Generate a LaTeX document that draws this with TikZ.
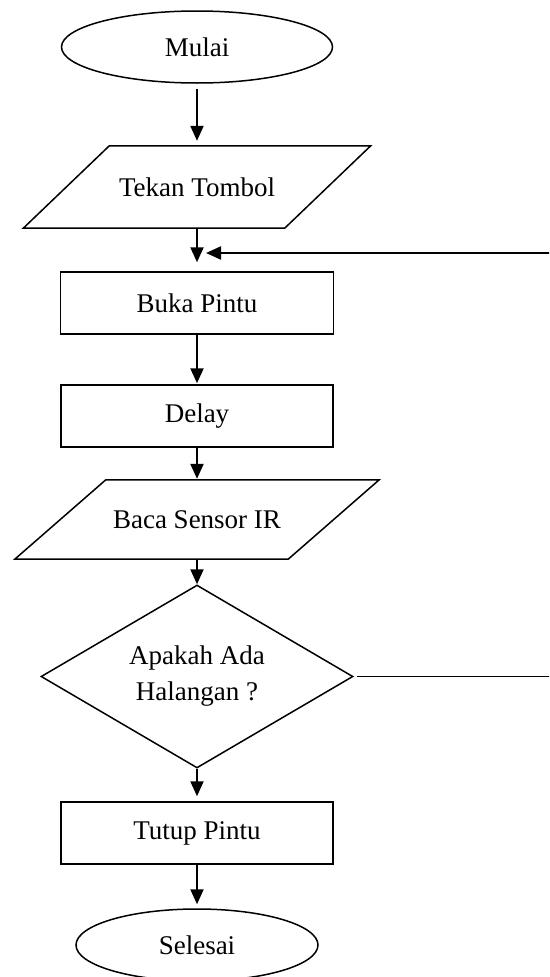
\documentclass[tikz,border=0pt]{standalone}
\usepackage{fontspec}
\setmainfont{Liberation Serif}
\usetikzlibrary{shapes.geometric,arrows.meta}
\begin{document}
\begin{tikzpicture}[x=1pt,y=-1pt,
  shapebox/.style={draw,line width=1.5pt,inner sep=0pt,font=\fontsize{27}{36}\selectfont},
  ovalbox/.style={shapebox,ellipse},
  rectbox/.style={shapebox,rectangle},
  iobox/.style={rectangle,inner sep=0pt,font=\fontsize{27}{36}\selectfont},
  decbox/.style={shapebox,diamond,aspect=1.7,align=center},
  conn/.style={line width=2.2pt,-{Triangle[width=13pt,length=15pt]}},
  plainconn/.style={line width=1.5pt},
  loopconn/.style={line width=2.2pt}
]
\useasboundingbox (0,0) rectangle (549,977);
\clip (0,0) rectangle (549,977);

\node[ovalbox,minimum width=271pt,minimum height=72pt] (mulai) at (197,47) {Mulai};
\node[iobox,minimum width=261pt,minimum height=82pt] (tekan) at (197,187) {Tekan Tombol};
\draw[line width=1.5pt] ([xshift=43pt]tekan.north west) -- ([xshift=43pt]tekan.north east)
  -- ([xshift=-43pt]tekan.south east) -- ([xshift=-43pt]tekan.south west) -- cycle;
\node[rectbox,minimum width=273pt,minimum height=62pt] (buka) at (197,303) {Buka Pintu};
\node[rectbox,minimum width=272pt,minimum height=62pt] (delay) at (197,416) {Delay};
\node[iobox,minimum width=273pt,minimum height=79pt] (baca) at (197,519.5) {Baca Sensor IR};
\draw[line width=1.5pt] ([xshift=45.5pt]baca.north west) -- ([xshift=45.5pt]baca.north east)
  -- ([xshift=-45.5pt]baca.south east) -- ([xshift=-45.5pt]baca.south west) -- cycle;
\node[decbox,minimum width=312pt,minimum height=183pt] (dia) at (197,676.5) {Apakah Ada\\Halangan ?};
\node[rectbox,minimum width=272pt,minimum height=62pt] (tutup) at (197,833) {Tutup Pintu};
\node[ovalbox,minimum width=242pt,minimum height=72pt] (selesai) at (197,945) {Selesai};

\draw[conn,shorten <=5pt,shorten >=5pt] (mulai.south) -- (tekan.north);
\draw[conn,shorten >=9pt] (tekan.south) -- (buka.north);
\draw[conn,shorten >=1pt] (buka.south) -- (delay.north);
\draw[conn,shorten >=1pt] (delay.south) -- (baca.north);
\draw[conn] (baca.south) -- (dia.north);
\draw[conn,shorten >=5pt] (dia.south) -- (tutup.north);
\draw[conn,shorten <=-1pt,shorten >=4pt] (tutup.south) -- (selesai.north);

\coordinate (c1) at (565,676.5);
\coordinate (c2) at (565,253);
\coordinate (loopin) at (206,253);
\draw[plainconn,shorten <=3pt] (dia.east) -- (c1);
\draw[loopconn] (c1) -- (c2);
\draw[conn] (c2) -- (loopin);
\end{tikzpicture}
\end{document}
